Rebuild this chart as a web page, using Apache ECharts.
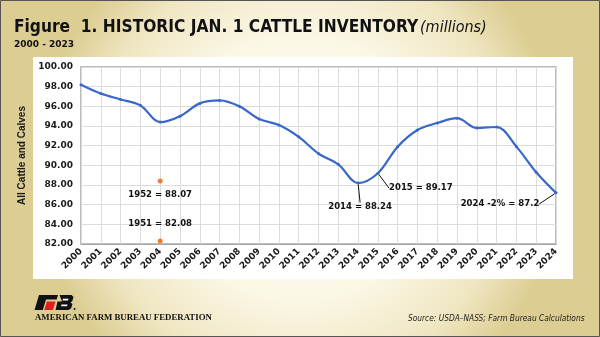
<!DOCTYPE html>
<html><head><meta charset="utf-8">
<script src="https://cdn.jsdelivr.net/npm/echarts@6/dist/echarts.min.js"></script>
<style>html,body{margin:0;padding:0;}#c{width:600px;height:337px;}</style>
</head><body><div id="c"></div>
<script>
const years = ['2000','2001','2002','2003','2004','2005','2006','2007','2008','2009','2010','2011','2012','2013','2014','2015','2016','2017','2018','2019','2020','2021','2022','2023','2024'];
const inventory = [98.2,97.3,96.7,96.1,94.4,95.0,96.3,96.6,96.0,94.7,94.1,92.9,91.2,90.1,88.2,89.2,91.9,93.6,94.3,94.8,93.8,93.9,91.9,89.3,87.2];
const yTicks = {min: 82, max: 100, interval: 2};
const annYears = ['2014','2015','2024'];
const annTexts = ['2014 = 88.24','2015 = 89.17','2024 -2% = 87.2'];
const histYear = '2004';
const histValues = [88.4, 82.3];
const histTexts = ['1952 = 88.07','1951 = 82.08'];

const annOffsets = {'2014':[2,24],'2015':[43,15],'2024':[-56,11]};

const lineData = years.map((y,i)=>{
  const k = annYears.indexOf(y);
  if (k < 0) return inventory[i];
  return {value: inventory[i], label: {show: true, formatter: annTexts[k]}};
});

const chart = echarts.init(document.getElementById('c'));
const boldLbl = {fontFamily: 'DejaVu Sans', fontWeight: 'bold', fontSize: 9, color: '#1a1a1a'};
chart.setOption({
  animation: false,
  backgroundColor: {
    type: 'radial', x: 0.5, y: 0.5, r: 0.78,
    colorStops: [{offset: 0, color: '#FFFEF8'}, {offset: 0.5, color: '#FBF7E6'}, {offset: 0.8, color: '#EFE5C0'}, {offset: 1, color: '#DCCD92'}]
  },
  graphic: [
    {type: 'rect', shape: {x: 0.5, y: 0.5, width: 599, height: 336}, style: {fill: 'none', stroke: '#555', lineWidth: 1}, z: 10},
    {type: 'rect', shape: {x: 33, y: 57, width: 540, height: 222}, style: {fill: '#ffffff'}, z: -10},
    {type: 'text', left: 14, top: 19, style: {text: 'Figure  1. HISTORIC JAN. 1 CATTLE INVENTORY', font: 'bold 17.2px "Liberation Sans Narrow", "DejaVu Sans Condensed", sans-serif', fill: '#111'}},
    {type: 'text', left: 420, top: 20, style: {text: '(millions)', font: 'italic 16px "Liberation Sans Narrow", "DejaVu Sans Condensed", sans-serif', fill: '#111'}},
    {type: 'text', left: 14, top: 40, style: {text: '2000 - 2023', font: 'bold 9px "DejaVu Sans", sans-serif', fill: '#111'}},
    {type: 'polygon', shape: {points: [[39,295],[58,295],[56.6,299.5],[46,299.5],[42.8,310],[34.5,310]]}, style: {fill: '#111'}},
    {type: 'polygon', shape: {points: [[46.8,301.5],[55.5,301.5],[53,310],[44.3,310]]}, style: {fill: '#E02020'}},
    {type: 'polygon', shape: {points: [[59.5,295],[71.5,295],[73.5,297],[72.3,301],[70.5,302.5],[72.5,304],[71,308.5],[68.5,310],[55.5,310],[57.5,301.5],[62,301.5]]}, style: {fill: '#111'}},
    {type: 'polygon', shape: {points: [[63,298.8],[68.5,298.8],[68,300.4],[62.5,300.4]]}, style: {fill: '#fff'}},
    {type: 'polygon', shape: {points: [[61.5,304.5],[67.5,304.5],[67,306.3],[61,306.3]]}, style: {fill: '#fff'}},
    {type: 'circle', shape: {cx: 74.5, cy: 309, r: 1}, style: {fill: '#111'}},
    {type: 'text', left: 35, top: 313, style: {text: 'AMERICAN FARM BUREAU FEDERATION', font: 'bold 8.8px "Liberation Serif", serif', fill: '#111'}},
    {type: 'text', left: 408, top: 315, style: {text: 'Source: USDA–NASS; Farm Bureau Calculations', font: 'italic 8.3px "Liberation Sans Narrow", "DejaVu Sans Condensed", sans-serif', fill: '#222'}}
  ],
  grid: {left: 81, right: 44, top: 67, bottom: 93, show: true, borderColor: '#A6A6A6', borderWidth: 1.5, backgroundColor: 'transparent'},
  xAxis: {
    type: 'category', data: years, boundaryGap: false,
    axisLine: {lineStyle: {color: '#A6A6A6'}}, axisTick: {show: false},
    axisLabel: Object.assign({rotate: 45, interval: 0, margin: 6}, boldLbl),
    splitLine: {show: true, lineStyle: {color: '#DCDCDC'}}
  },
  yAxis: {
    type: 'value', min: yTicks.min, max: yTicks.max, interval: yTicks.interval,
    name: 'All Cattle and Calves', nameLocation: 'middle', nameGap: 47, nameRotate: 90,
    nameTextStyle: {fontFamily: 'Liberation Sans', fontWeight: 'bold', fontSize: 10, color: '#1a1a1a'},
    axisLine: {show: false}, axisTick: {show: false},
    axisLabel: Object.assign({formatter: v => v.toFixed(2), margin: 8}, boldLbl),
    splitLine: {show: true, lineStyle: {color: '#DCDCDC'}}
  },
  series: [
    {
      type: 'line', data: lineData, smooth: 0.35,
      symbol: 'circle', symbolSize: 3, showSymbol: true,
      lineStyle: {color: '#3A68C8', width: 2.2}, itemStyle: {color: '#3A68C8'},
      label: {show: false, position: 'inside', fontFamily: 'DejaVu Sans', fontWeight: 'bold', fontSize: 8.5, color: '#111'},
      labelLine: {show: true, lineStyle: {color: '#111', width: 1}},
      labelLayout: p => {
        const o = annOffsets[years[p.dataIndex]];
        return o ? {dx: o[0], dy: o[1]} : {};
      },
      z: 3
    },
    {
      type: 'scatter', symbolSize: 5, itemStyle: {color: '#ED7D31', opacity: 1},
      data: histValues.map((v,i)=>({value: [histYear, v], label: {position: i === 0 ? 'bottom' : 'top', distance: i === 0 ? 7 : 10}})),
      label: {show: true, formatter: p => histTexts[p.dataIndex], fontFamily: 'DejaVu Sans', fontWeight: 'bold', fontSize: 8.5, color: '#111', opacity: 1}
    }
  ]
});
</script></body></html>
